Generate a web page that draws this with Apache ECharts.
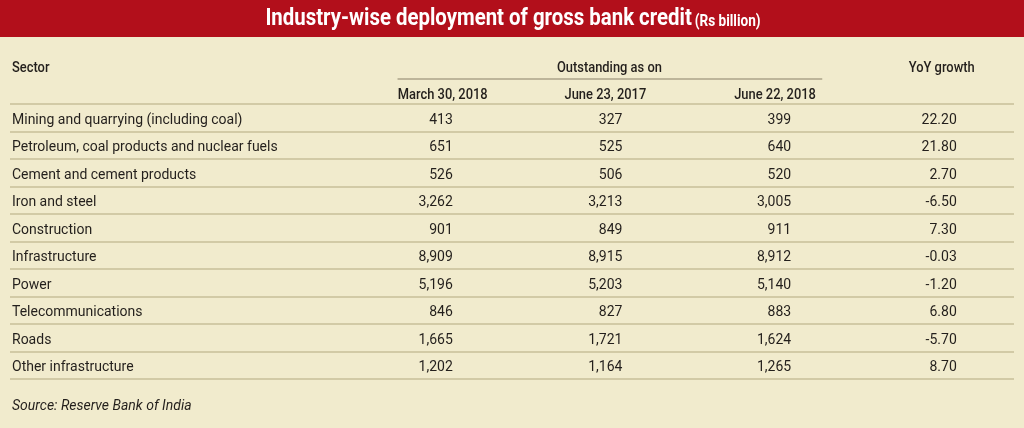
<!DOCTYPE html>
<html>
<head>
<meta charset="utf-8">
<script src="https://cdn.jsdelivr.net/npm/echarts@6/dist/echarts.min.js"></script>
<style>
html,body{margin:0;padding:0;background:#f1ebcd;}
#chart{width:1024px;height:428px;}
</style>
</head>
<body>
<div id="chart"></div>
<script>
// ---- data ----
const titleText = 'Industry-wise deployment of gross bank credit';
const unitText = '(Rs billion)';
const sectorHead = 'Sector';
const groupHead = 'Outstanding as on';
const columnHeads = ['March 30, 2018', 'June 23, 2017', 'June 22, 2018'];
const growthHead = 'YoY growth';
const sourceText = 'Source: Reserve Bank of India';
const sectors = [
  'Mining and quarrying (including coal)',
  'Petroleum, coal products and nuclear fuels',
  'Cement and cement products',
  'Iron and steel',
  'Construction',
  'Infrastructure',
  'Power',
  'Telecommunications',
  'Roads',
  'Other infrastructure'
];
const mar2018 = [413, 651, 526, 3262, 901, 8909, 5196, 846, 1665, 1202];
const jun2017 = [327, 525, 506, 3213, 849, 8915, 5203, 827, 1721, 1164];
const jun2018 = [399, 640, 520, 3005, 911, 8912, 5140, 883, 1624, 1265];
const yoyGrowth = [22.20, 21.80, 2.70, -6.50, 7.30, -0.03, -1.20, 6.80, -5.70, 8.70];

// ---- layout (percent of table width) ----
const SECTOR_X = 0.2;
const NUM_RIGHT = [44.1, 61.0, 77.8, 94.3];
const HEAD_CENTER = [43.1, 59.3, 76.2, 92.8];
const GROUP_LINE = [38.6, 80.9];
const GROUP_CENTER = 59.7;

const INK = '#231f1c';
const BODY_FONT = 'Roboto, "Liberation Sans", sans-serif';
const HEAD_FONT = 'Roboto, "Liberation Sans", sans-serif';

const chart = echarts.init(document.getElementById('chart'), null, {renderer: 'canvas'});
const columns = [mar2018, jun2017, jun2018];
const fmt = v => v.toLocaleString('en-US');

function txt(text, x, y, align, opts) {
  return Object.assign({
    type: 'text', x: x, y: y,
    style: Object.assign({
      text: text, align: align, textAlign: align,
      verticalAlign: 'middle', textVerticalAlign: 'middle',
      fill: INK, fontSize: 14, fontFamily: BODY_FONT
    }, opts && opts.style || {})
  }, opts && opts.el || {});
}

chart.setOption({
  backgroundColor: '#f1ebcd',
  animation: false,
  grid: {left: 10, right: 10, top: 104, bottom: 49},
  xAxis: {type: 'value', min: 0, max: 100, show: false},
  yAxis: {
    type: 'category', data: sectors, inverse: true,
    axisLine: {show: false}, axisTick: {show: false}, axisLabel: {show: false},
    splitLine: {show: true, lineStyle: {color: '#c7bf98', width: 1.5}}
  },
  series: [{
    type: 'custom',
    data: sectors.map((s, i) => [0, i]),
    renderItem: function (params, api) {
      const row = api.value(1);
      const y = api.coord([0, row])[1] + 2.5;
      const children = [txt(sectors[row], api.coord([SECTOR_X, row])[0], y, 'left')];
      columns.forEach((col, c) => {
        children.push(txt(fmt(col[row]), api.coord([NUM_RIGHT[c], row])[0], y, 'right'));
      });
      children.push(txt(yoyGrowth[row].toFixed(2), api.coord([NUM_RIGHT[3], row])[0], y, 'right'));
      return {type: 'group', children: children};
    }
  }]
});

const px = v => chart.convertToPixel({xAxisIndex: 0}, v);
const headStyle = {fontSize: 15, fontWeight: 500, fontFamily: HEAD_FONT};
const headEl = {scaleX: 0.86};
const graphics = [
  {type: 'rect', shape: {x: 0, y: 0, width: 1024, height: 37}, style: {fill: '#b20f1b'}},
  {
    type: 'text', x: 513, y: 19, scaleX: 0.85,
    style: {
      text: '{a|' + titleText + '} {b|' + unitText + '}',
      align: 'center', textAlign: 'center', verticalAlign: 'middle', textVerticalAlign: 'middle',
      rich: {
        a: {fontSize: 24, fontWeight: 'bold', fill: '#ffffff', fontFamily: HEAD_FONT},
        b: {fontSize: 16, fontWeight: 'bold', fill: '#ffffff', fontFamily: HEAD_FONT, padding: [5, 0, 0, 0]}
      }
    }
  },
  txt(sectorHead, px(SECTOR_X), 68, 'left', {style: headStyle, el: headEl}),
  txt(groupHead, px(GROUP_CENTER), 68, 'center', {style: headStyle, el: headEl}),
  txt(growthHead, px(HEAD_CENTER[3]), 68, 'center', {style: headStyle, el: headEl}),
  {type: 'line', shape: {x1: px(GROUP_LINE[0]), y1: 79, x2: px(GROUP_LINE[1]), y2: 79},
   style: {stroke: '#8a8068', lineWidth: 1.2}},
  txt(sourceText, px(SECTOR_X), 406, 'left', {style: {fontStyle: 'italic', fontSize: 14}})
];
columnHeads.forEach((h, c) => {
  graphics.push(txt(h, px(HEAD_CENTER[c]), 95, 'center', {style: headStyle, el: headEl}));
});
chart.setOption({graphic: graphics});
</script>
</body>
</html>
